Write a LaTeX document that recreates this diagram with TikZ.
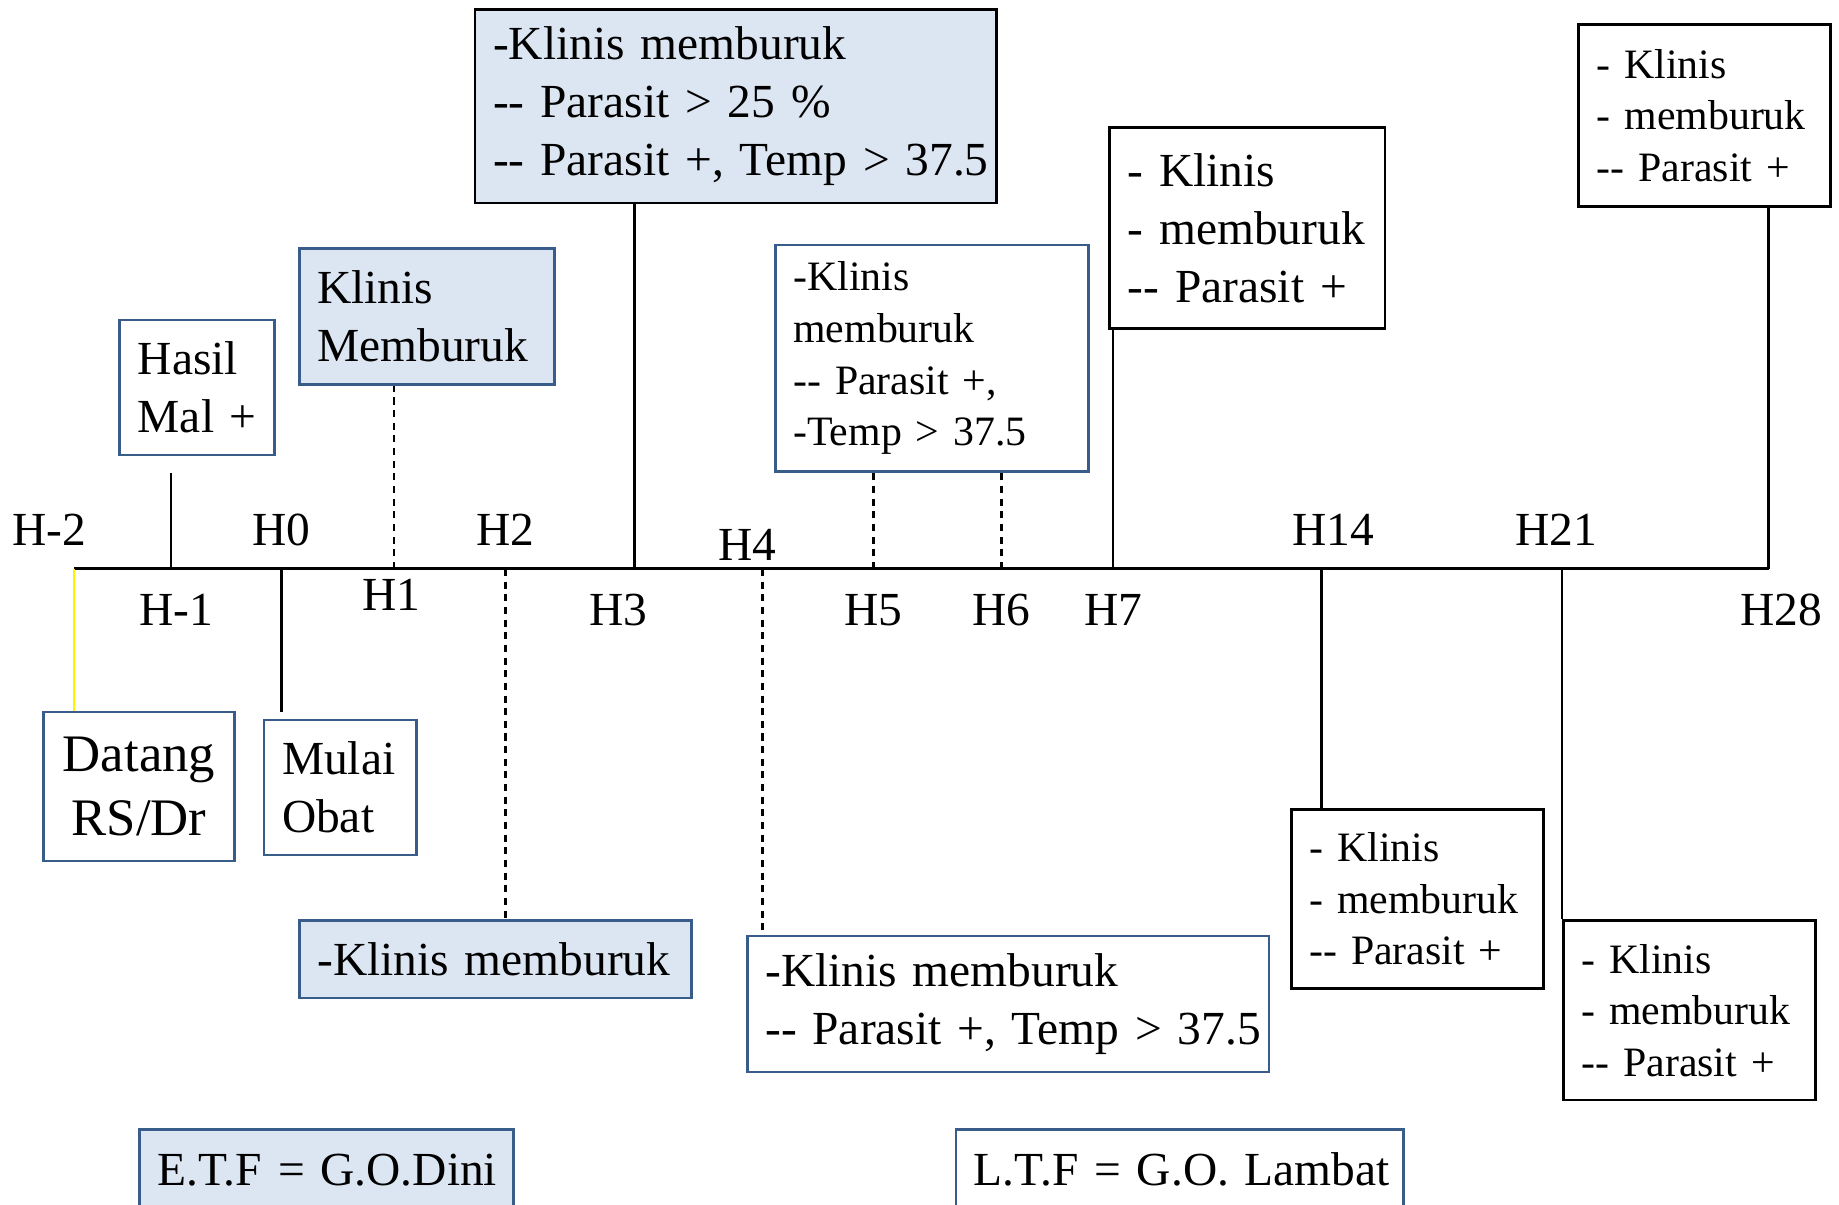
\documentclass[tikz,border=0pt]{standalone}
\usepackage{fontspec}
\setmainfont{Liberation Serif}
\usepackage{tikz}
\definecolor{boxblue}{HTML}{385D8A}
\definecolor{boxfill}{HTML}{DCE6F2}
\newcommand{\twodash}{-\kern0pt-}
\hyphenpenalty=10000
\exhyphenpenalty=10000
\hbadness=10000
\hfuzz=20pt

\begin{document}
\begin{tikzpicture}[
    lbl/.style={font=\fontsize{13.5}{16.5}\selectfont, inner sep=0pt},
    box/.style={draw=boxblue, line width=0.75pt, inner xsep=0.18cm, inner ysep=0pt, align=left, font=\fontsize{13.5}{16.5}\selectfont},
    shadebox/.style={box, fill=boxfill},
    dark/.style={draw=black},
    small/.style={font=\fontsize{11.9}{14.7}\selectfont},
    axis/.style={line width=0.85pt},
    tick/.style={line width=0.7pt},
    dtick/.style={line width=0.7pt, dash pattern=on 2pt off 1.6pt}
  ]
  \useasboundingbox (0,0) rectangle (18.39,-12.05);
  \clip (0,0) rectangle (18.39,-12.05);

  % time axis
  \coordinate (hm2) at (0.739,-5.69);
  \coordinate (hm1) at (1.712,-5.69);
  \coordinate (h0) at (2.815,-5.69);
  \coordinate (h1) at (3.941,-5.69);
  \coordinate (h2) at (5.055,-5.69);
  \coordinate (h3) at (6.345,-5.69);
  \coordinate (h4) at (7.623,-5.69);
  \coordinate (h5) at (8.737,-5.69);
  \coordinate (h6) at (10.016,-5.69);
  \coordinate (h7) at (11.130,-5.69);
  \coordinate (h14) at (13.217,-5.69);
  \coordinate (h21) at (15.622,-5.69);
  \coordinate (h28) at (17.686,-5.69);
  \draw[axis] (hm2) -- (h28);

  % day labels
  \node[lbl] (lhm2) at (0.493,-5.30) {H-2};
  \node[lbl] (lhm1) at (1.759,-6.10) {H-1};
  \node[lbl] (lh0) at (2.815,-5.30) {H0};
  \node[lbl] (lh1) at (3.917,-5.95) {H1};
  \node[lbl] (lh2) at (5.055,-5.30) {H2};
  \node[lbl] (lh3) at (6.181,-6.10) {H3};
  \node[lbl] (lh4) at (7.471,-5.45) {H4};
  \node[lbl] (lh5) at (8.737,-6.10) {H5};
  \node[lbl] (lh6) at (10.016,-6.10) {H6};
  \node[lbl] (lh7) at (11.130,-6.10) {H7};
  \node[lbl] (lh14) at (13.335,-5.30) {H14};
  \node[lbl] (lh21) at (15.563,-5.30) {H21};
  \node[lbl] (lh28) at (17.815,-6.10) {H28};

  % boxes
  \node[box, align=center, text width=1.55cm, minimum height=1.489cm, font=\fontsize{15}{18}\selectfont] (datang) at (1.390,-7.864) {Datang\\ RS/Dr};
  \node[box, text width=1.185cm, minimum height=1.349cm] (hasil) at (1.970,-3.876) {Hasil\\ Mal~+};
  \node[box, text width=1.162cm, minimum height=1.349cm] (mulai) at (3.401,-7.875) {Mulai\\ Obat};
  \node[shadebox, text width=2.194cm, minimum height=1.361cm] (burukA) at (4.269,-3.167) {Klinis\\ Memburuk};
  \node[shadebox, text width=3.566cm, minimum height=0.774cm] (burukB) at (4.955,-9.593) {-Klinis~memburuk};
  \node[shadebox, dark, text width=4.857cm, minimum height=1.935cm] (parah) at (7.359,-1.061) {-Klinis~memburuk\\ \twodash~Parasit~>~25~\%\\ \twodash~Parasit~+,~Temp~>~37.5};
  \node[box, small, text width=2.769cm, minimum height=2.264cm] (demam) at (9.318,-3.583) {-Klinis\\ memburuk\\ \twodash~Parasit~+,\\ -Temp~>~37.5};
  \node[box, text width=4.856cm, minimum height=1.360cm] (lambatA) at (10.080,-10.039) {-Klinis~memburuk\\ \twodash~Parasit~+,~Temp~>~37.5};
  \node[box, dark, text width=2.393cm, minimum height=2.006cm] (lambatB) at (12.473,-2.281) {-~Klinis\\ -~memburuk\\ \twodash~Parasit~+};
  \node[box, dark, small, text width=2.159cm, minimum height=1.794cm] (lambatC) at (14.173,-8.990) {-~Klinis\\ -~memburuk\\ \twodash~Parasit~+};
  \node[box, dark, small, text width=2.159cm, minimum height=1.794cm] (lambatD) at (16.894,-10.104) {-~Klinis\\ -~memburuk\\ \twodash~Parasit~+};
  \node[box, dark, small, text width=2.159cm, minimum height=1.818cm] (lambatE) at (17.046,-1.155) {-~Klinis\\ -~memburuk\\ \twodash~Parasit~+};
  \node[shadebox, align=center, text width=3.379cm, minimum height=0.806cm] (etf) at (3.266,-11.697) {E.T.F~=~G.O.Dini};
  \node[box, align=center, text width=4.117cm, minimum height=0.806cm] (ltf) at (11.798,-11.697) {L.T.F~=~G.O.~Lambat};

  % connectors
  \draw[tick, yellow] (hm2) -- (hm2 |- datang.north);
  \draw[tick] (hm1) -- ++(0,0.96);
  \draw[tick] (h0) -- ++(0,-1.43);
  \draw[dtick] (h1) -- (h1 |- burukA.south);
  \draw[dtick] (h2) -- (h2 |- burukB.north);
  \draw[tick] (h3) -- (h3 |- parah.south);
  \draw[dtick] (h4) -- (h4 |- lambatA.north);
  \draw[dtick] (h5) -- (h5 |- demam.south);
  \draw[dtick] (h6) -- (h6 |- demam.south);
  \draw[tick] (h7) -- (h7 |- lambatB.south);
  \draw[tick] (h14) -- (h14 |- lambatC.north);
  \draw[tick] (h21) -- (h21 |- lambatD.north);
  \draw[tick] (h28) -- (h28 |- lambatE.south);
\end{tikzpicture}
\end{document}
